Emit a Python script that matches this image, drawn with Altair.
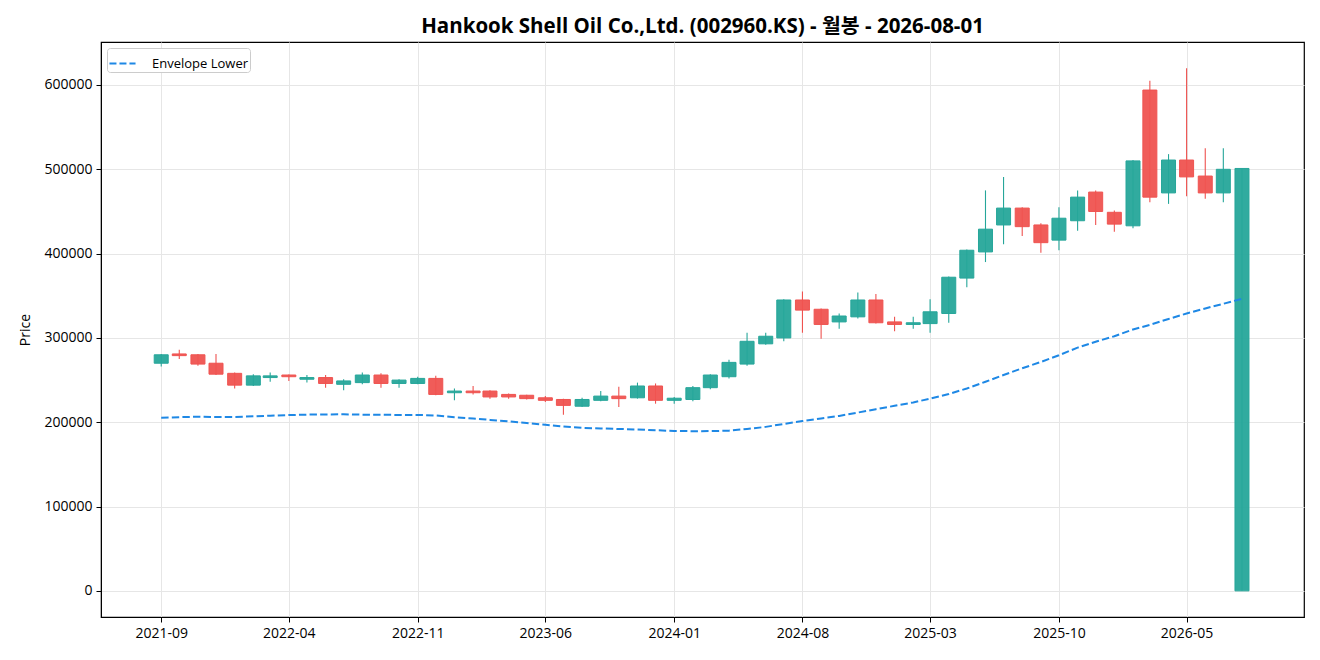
import altair as alt
import pandas as pd

months = pd.date_range("2021-09-01", periods=60, freq="MS")

opens = [270000, 281000, 280000, 270000, 258000, 244000, 253000, 256000, 251000, 253000,
         245000, 247000, 256000, 246000, 246000, 252000, 235000, 237000, 237000, 233000,
         232000, 229000, 227000, 219000, 226000, 231000, 229000, 243000, 226000, 227000,
         241000, 254000, 269000, 293000, 300000, 345000, 334000, 319000, 325000, 345000,
         319000, 316000, 317000, 329000, 371000, 402000, 434000, 454000, 434000, 416000,
         439000, 473000, 449000, 433000, 594000, 472000, 511000, 492000, 472000, 0]
highs = [281000, 286000, 281000, 281000, 259000, 257000, 259000, 256500, 256000, 256000,
         251000, 259000, 258000, 251000, 254000, 255000, 240000, 243000, 238000, 234000,
         232500, 231000, 228000, 229000, 237000, 242000, 247000, 246000, 230000, 243000,
         257000, 274000, 306000, 306000, 346000, 355000, 335000, 329000, 354000, 352000,
         325000, 325000, 346000, 373000, 405000, 475000, 491000, 455000, 436000, 455000,
         475000, 475000, 451000, 511000, 605000, 518000, 620000, 525000, 525000, 501000]
lows = [266000, 275000, 267000, 256000, 240000, 243000, 248000, 249000, 247000, 241000,
        238000, 245000, 241000, 241000, 245000, 232000, 226000, 233000, 228000, 228000,
        227000, 224000, 209000, 218000, 225000, 218000, 228000, 222000, 222000, 225000,
        239000, 252000, 267000, 292000, 296000, 306000, 299000, 311000, 323000, 317000,
        308000, 311000, 306000, 318000, 360000, 390000, 411000, 421000, 401000, 404000,
        427000, 434000, 426000, 430000, 461000, 459000, 468000, 465000, 461000, 0]
closes = [280000, 279000, 269000, 257000, 244000, 255000, 255000, 254000, 253000, 246000,
          249000, 256000, 246000, 250000, 252000, 233000, 237000, 235000, 230000, 230000,
          228000, 226000, 220000, 227000, 231000, 228000, 243000, 226000, 228500, 241000,
          256000, 271000, 296000, 302000, 345000, 333000, 316000, 326000, 345000, 318000,
          316000, 318000, 331000, 372000, 404000, 429000, 454000, 432000, 413000, 442000,
          467000, 450000, 435000, 510000, 467000, 511000, 491000, 472000, 500000, 501000]
envelope_lower = [205200, 206000, 206500, 206300, 206200, 207000, 207800, 208500, 209000, 209300,
                  209400, 209000, 208800, 208700, 208700, 208000, 206000, 204500, 202800, 201000,
                  199000, 197000, 195000, 193300, 192700, 192000, 191400, 190500, 189700, 189400,
                  189500, 190000, 192000, 194500, 198000, 201400, 204500, 207500, 211500, 215500,
                  219500, 223500, 228000, 233500, 240000, 248000, 256000, 264000, 271500, 279500,
                  288500, 295500, 302000, 310000, 315500, 322500, 329000, 335000, 340500, 346500]

tick_months = ["2021-09", "2022-04", "2022-11", "2023-06", "2024-01",
               "2024-08", "2025-03", "2025-10", "2026-05"]

FONT = "Open Sans, Noto Sans CJK KR, sans-serif"

def ms(ts):
    return int(pd.Timestamp(ts).value // 1_000_000)

df = pd.DataFrame({
    "date": [ms(m) for m in months],
    "open": opens, "high": highs, "low": lows, "close": closes,
    "env": envelope_lower,
})
df["dir"] = ["up" if c >= o else "down" for o, c in zip(opens, closes)]
df["series"] = "Envelope Lower"

x_domain = [ms(months[0] - pd.Timedelta(days=100)), ms(months[-1] + pd.Timedelta(days=103))]
tick_vals = [ms(t + "-01") for t in tick_months]

x_enc = alt.X("date:T",
              scale=alt.Scale(type="utc", domain=x_domain, nice=False, padding=0),
              axis=alt.Axis(values=tick_vals, labelExpr="utcFormat(datum.value, '%Y-%m')",
                            title=None,
                            labelFontSize=14, labelFont=FONT, labelColor="#000",
                            tickColor="#000", domainColor="#000", tickSize=5,
                            labelPadding=4, gridColor="#e6e6e6", labelAngle=0))
y_scale = alt.Scale(domain=[-31000, 651000], nice=False, zero=False, padding=0)
y_axis = alt.Axis(values=[0, 100000, 200000, 300000, 400000, 500000, 600000], format="d",
                  title="Price", titleFontSize=14, titleFont=FONT, titleFontWeight="normal",
                  titleColor="#000", titlePadding=11,
                  labelFontSize=14, labelFont=FONT, labelColor="#000",
                  tickColor="#000", domainColor="#000", tickSize=5, labelPadding=4,
                  gridColor="#e6e6e6")

color_scale = alt.Scale(domain=["up", "down"], range=["#26a69a", "#ef5350"])

base = alt.Chart(df)

wicks = base.mark_rule(strokeWidth=1.1).encode(
    x=x_enc,
    y=alt.Y("low:Q", scale=y_scale, axis=y_axis),
    y2="high:Q",
    color=alt.Color("dir:N", scale=color_scale, legend=None),
)

bodies = base.mark_bar(size=14, strokeWidth=1, fillOpacity=0.95).encode(
    x=x_enc,
    y=alt.Y("open:Q", scale=y_scale, axis=y_axis),
    y2="close:Q",
    color=alt.Color("dir:N", scale=color_scale, legend=None),
    stroke=alt.Color("dir:N", scale=color_scale, legend=None),
)

line = base.mark_line(strokeWidth=2, strokeDash=[7.4, 3.2]).encode(
    x=x_enc,
    y=alt.Y("env:Q", scale=y_scale, axis=y_axis),
    color=alt.Color("series:N", scale=alt.Scale(domain=["Envelope Lower"], range=["#1e88e5"]),
                    legend=alt.Legend(title=None, orient="top-left", offset=6,
                                      symbolType="stroke", symbolStrokeWidth=2,
                                      symbolDash=[7, 3], symbolSize=680,
                                      labelFontSize=13, labelFont=FONT, labelColor="#000",
                                      labelOffset=15,
                                      fillColor="white", strokeColor="#cccccc",
                                      padding=1, cornerRadius=3)),
)

chart = alt.layer(wicks, bodies, line).resolve_scale(color="independent", stroke="independent").properties(
    width=1203, height=575,
    autosize=alt.AutoSizeParams(type="none"),
    padding={"left": 93, "top": 34, "right": 8, "bottom": 26},
    title=alt.Title("Hankook Shell Oil Co.,Ltd. (002960.KS) - 월봉 - 2026-08-01",
                    font=FONT, fontSize=20.5, fontWeight="bold", color="#000",
                    anchor="middle", offset=5),
    background="white",
).configure_view(stroke="#000", strokeWidth=1.2).configure_axis(grid=True)

chart.save("out.html", embed_options={"renderer": "svg", "actions": False})
